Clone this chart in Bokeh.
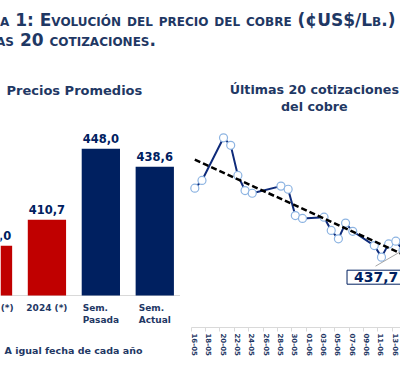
import numpy as np
import pandas as pd
from bokeh.plotting import figure
from bokeh.models import (Range1d, ColumnDataSource, LabelSet, Label, Div, FixedTicker,
                          DatetimeTickFormatter, Span, Title)
from bokeh.layouts import column, row
from bokeh.embed import file_html
from bokeh.resources import INLINE
from bokeh.core.properties import value

# ---------------- texts ----------------
TITLE_1 = "Gráfica 1: Evolución del precio del cobre (¢US$/Lb.)"
TITLE_2 = "Últimas 20 cotizaciones."
BAR_TITLE = "Precios Promedios"
LINE_TITLE_1 = "Últimas 20 cotizaciones"
LINE_TITLE_2 = "del cobre"
FOOTNOTE = "A igual fecha de cada año"

# ---------------- data ----------------
bar_categories = ["2023 (*)", "2024 (*)", "Sem.\nPasada", "Sem.\nActual"]
bar_values = [397.0, 410.7, 448.0, 438.6]
bar_colors = ["#C00000", "#C00000", "#002060", "#002060"]

quote_dates = ["2024-05-16", "2024-05-17", "2024-05-20", "2024-05-21", "2024-05-22",
               "2024-05-23", "2024-05-24", "2024-05-28", "2024-05-29", "2024-05-30",
               "2024-05-31", "2024-06-03", "2024-06-04", "2024-06-05", "2024-06-06",
               "2024-06-07", "2024-06-10", "2024-06-11", "2024-06-12", "2024-06-13",
               "2024-06-14"]
quote_values = [467.2, 470.9, 491.2, 487.6, 473.3, 466.1, 464.8, 468.2, 466.7, 454.2,
                452.8, 453.4, 447.1, 443.1, 450.6, 446.7, 439.9, 434.4, 440.7, 442.0,
                437.7]
date_tick_labels = ["16-05", "18-05", "20-05", "22-05", "24-05", "26-05", "28-05", "30-05",
                    "01-06", "03-06", "05-06", "07-06", "09-06", "11-06", "13-06"]

# ---------------- styles ----------------
NAVY = "#002060"
TEXT = "#1F3864"
LINE_COLOR = "#0F2B7A"
MARKER_LINE = "#8DB4E2"
AXIS_GREY = "#D9D9D9"
FONT = "DejaVu Sans"

# ---------------- title ----------------
title_html = (
    '<div style="font-family:\'DejaVu Sans\';font-weight:bold;font-variant:small-caps;'
    'color:%s;font-size:17px;line-height:20px;white-space:nowrap;margin-top:10px;">'
    '<div style="margin-left:-54px">%s</div>'
    '<div style="margin-left:-48px">%s</div></div>' % (TEXT, TITLE_1, TITLE_2)
)
title_div = Div(text=title_html, width=400, height=60, margin=0,
                styles={"overflow": "hidden"})

# ---------------- bar chart ----------------
BAR_MIN = 370.8
bar_fig = figure(width=180, height=319, x_range=Range1d(0.139, 3.477),
                 y_range=Range1d(353.96, 494.5), x_axis_location=None,
                 y_axis_location=None, toolbar_location=None, output_backend="svg",
                 min_border_left=0, min_border_right=0, min_border_top=0,
                 min_border_bottom=52, outline_line_color=None)
bar_fig.grid.visible = False

bar_src = ColumnDataSource(dict(
    x=list(range(len(bar_categories))), top=bar_values, cat=bar_categories,
    color=bar_colors, label=[f"{v:.1f}".replace(".", ",") for v in bar_values],
    base=[BAR_MIN] * len(bar_values)))

bar_fig.add_layout(Span(location=BAR_MIN, dimension="width", line_color=AXIS_GREY,
                        line_width=1, level="underlay"))
bar_fig.vbar(x="x", top="top", bottom=BAR_MIN, width=0.71, fill_color="color",
             line_color=None, source=bar_src)

bar_fig.add_layout(LabelSet(x="x", y="top", text="label", source=bar_src, y_offset=5.5,
                            text_align="center", text_baseline="alphabetic",
                            text_font=value(FONT), text_font_style="bold",
                            text_font_size="11.5px", text_color=NAVY))
bar_fig.add_layout(LabelSet(x="x", y="base", text="cat", source=bar_src, y_offset=-7,
                            text_align="center", text_baseline="top",
                            text_font=value(FONT), text_font_style="bold",
                            text_font_size="9px", text_color=TEXT, text_line_height=1.2))
bar_fig.add_layout(Label(x=6, y=237, x_units="screen", y_units="screen", text=BAR_TITLE,
                         text_font=FONT, text_font_style="bold", text_font_size="13px",
                         text_color=TEXT, text_baseline="alphabetic"))
bar_fig.add_layout(Title(text=FOOTNOTE, align="left", offset=4, standoff=30,
                         text_font=FONT, text_font_style="bold", text_font_size="9.5px",
                         text_color=TEXT), "below")

# ---------------- line chart ----------------
dates = pd.to_datetime(quote_dates)
DAY_PX = 7.18
x_start = dates[0] - pd.Timedelta(days=14.3 / DAY_PX)
x_end = x_start + pd.Timedelta(days=220 / DAY_PX)

line_fig = figure(width=220, height=319, x_axis_type="datetime",
                  x_range=Range1d(x_start, x_end), y_range=Range1d(400.9, 528.0),
                  y_axis_location=None, toolbar_location=None, output_backend="svg",
                  min_border_left=0, min_border_right=0, min_border_top=0,
                  min_border_bottom=52, outline_line_color=None)
line_fig.grid.visible = False

src = ColumnDataSource(dict(date=dates, price=quote_values))
line_fig.line("date", "price", source=src, line_color=LINE_COLOR, line_width=2)
line_fig.scatter("date", "price", source=src, size=8, fill_color="white",
                 line_color=MARKER_LINE, line_width=1.2)

day_num = np.array([(t - dates[0]).days for t in dates], dtype=float)
coef = np.polyfit(day_num, np.array(quote_values), 1)
trend_y = np.polyval(coef, [day_num[0], day_num[-1]])
line_fig.line([dates[0], dates[-1]], list(trend_y), line_color="black", line_width=2.5,
              line_dash="6 3")

# callout for last value
last_ms = dates[-1].value / 1e6
last_v = quote_values[-1]
line_fig.segment(x0=[last_ms], y0=[last_v], x1=[last_ms - 3.83 * 86400000],
                 y1=[last_v - 7.6], line_color="#A6A6A6", line_width=1)
line_fig.add_layout(Label(x=last_ms, y=last_v, x_offset=-56, y_offset=-27,
                          text=f"{last_v:.1f}".replace(".", ","), text_align="left",
                          text_baseline="middle", text_font=FONT, text_font_style="bold",
                          text_font_size="14px", text_color=NAVY,
                          border_line_color=NAVY, border_line_width=1,
                          background_fill_color="white",
                          padding=dict(left=7, right=7, top=2, bottom=2)))

line_fig.add_layout(Label(x=133.8, y=237.7, x_units="screen", y_units="screen",
                          text=LINE_TITLE_1, text_align="center", text_baseline="alphabetic",
                          text_font=FONT, text_font_style="bold", text_font_size="12.7px",
                          text_color=TEXT))
line_fig.add_layout(Label(x=133.8, y=221.3, x_units="screen", y_units="screen",
                          text=LINE_TITLE_2, text_align="center", text_baseline="alphabetic",
                          text_font=FONT, text_font_style="bold", text_font_size="12.7px",
                          text_color=TEXT))

tick_dates = pd.to_datetime(["2024-%s-%s" % (lbl[3:], lbl[:2]) for lbl in date_tick_labels])
major = [t.value / 1e6 for t in tick_dates]
minor = [(t - pd.Timedelta(hours=12)).value / 1e6 for t in tick_dates]
xa = line_fig.xaxis[0]
xa.ticker = FixedTicker(ticks=major, minor_ticks=minor)
xa.formatter = DatetimeTickFormatter(days="%d-%m", months="%d-%m", years="%d-%m",
                                     hours="%d-%m", hourmin="%d-%m")
xa.major_label_overrides = {m: lbl for m, lbl in zip(major, date_tick_labels)}
xa.bounds = (minor[0], x_end.value / 1e6)
xa.axis_line_color = AXIS_GREY
xa.major_tick_in = 0
xa.major_tick_out = 0
xa.minor_tick_in = 0
xa.minor_tick_out = 4
xa.minor_tick_line_color = AXIS_GREY
xa.major_label_orientation = "vertical"
xa.major_label_standoff = 2
xa.major_label_text_font = FONT
xa.major_label_text_font_style = "bold"
xa.major_label_text_font_size = "7px"
xa.major_label_text_color = TEXT

layout = column(title_div, row(bar_fig, line_fig))

with open("out.html", "w") as f:
    f.write(file_html(layout, INLINE, title="Precio del cobre"))
